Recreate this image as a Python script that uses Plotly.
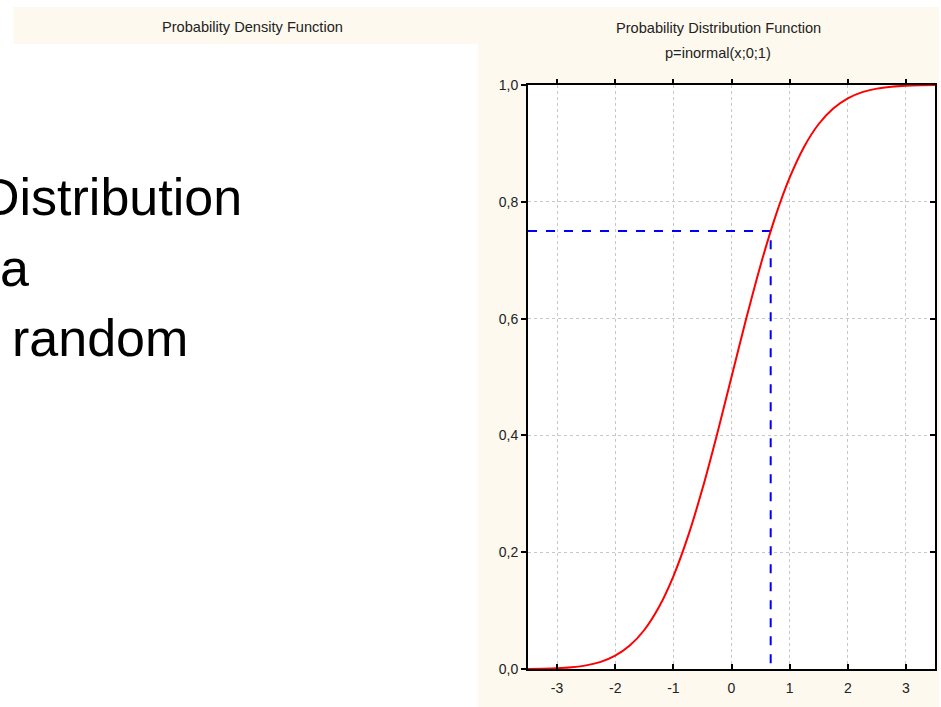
import plotly.graph_objects as go

# ---- data ----
x_vals = [-3.5, -3.25, -3.0, -2.75, -2.5, -2.25, -2.0, -1.75, -1.5, -1.25, -1.0,
          -0.75, -0.5, -0.25, 0.0, 0.25, 0.5, 0.75, 1.0, 1.25, 1.5, 1.75, 2.0,
          2.25, 2.5, 2.75, 3.0, 3.25, 3.5]
p_vals = [0.0002, 0.0006, 0.0013, 0.0030, 0.0062, 0.0122, 0.0228, 0.0401, 0.0668,
          0.1056, 0.1587, 0.2266, 0.3085, 0.4013, 0.5000, 0.5987, 0.6915, 0.7734,
          0.8413, 0.8944, 0.9332, 0.9599, 0.9772, 0.9878, 0.9938, 0.9970, 0.9987,
          0.9994, 0.9998]
quantile_x = [-3.5, 0.674, 0.674]
quantile_p = [0.75, 0.75, 0.0]
x_ticks = [-3, -2, -1, 0, 1, 2, 3]
y_ticks = [0.0, 0.2, 0.4, 0.6, 0.8, 1.0]
left_title = "Probability Density Function"
right_title = "Probability Distribution Function"
right_subtitle = "p=inormal(x;0;1)"
side_text = ["Distribution", "a", "random"]

# ---- geometry (pixels) ----
W, H = 941, 707
PL, PR, PT, PB = 528, 937, 85, 669


def px(x):
    return (x - PL) / (PR - PL)


def py(y):
    return (PB - y) / (PB - PT)


BEIGE = "#fdf9ee"
FONT = "Liberation Sans"

fig = go.Figure()
fig.add_trace(go.Scatter(x=quantile_x, y=quantile_p, mode="lines",
                         line=dict(color="#0000ff", width=2, dash="dash"),
                         showlegend=False, hoverinfo="skip"))
fig.add_trace(go.Scatter(x=x_vals, y=p_vals, mode="lines",
                         line=dict(color="#ff0000", width=2, shape="spline", smoothing=0.6),
                         showlegend=False, cliponaxis=False))
# invisible trace to activate the secondary (tick-mirror) axes
fig.add_trace(go.Scatter(x=[x_vals[0]], y=[p_vals[0]], xaxis="x2", yaxis="y2",
                         mode="markers", marker=dict(opacity=0), showlegend=False,
                         hoverinfo="skip"))

shapes = [
    dict(type="rect", xref="paper", yref="paper", x0=px(11), x1=px(W), y0=py(44), y1=py(7),
         fillcolor=BEIGE, line=dict(width=0), layer="below"),
    dict(type="rect", xref="paper", yref="paper", x0=px(478), x1=px(W), y0=py(H), y1=py(7),
         fillcolor=BEIGE, line=dict(width=0), layer="below"),
    dict(type="rect", xref="paper", yref="paper", x0=0, x1=1, y0=0, y1=1,
         fillcolor="white", line=dict(width=0), layer="below"),
]

annotations = [
    dict(text=left_title, x=px(251), y=py(27), xref="paper", yref="paper",
         showarrow=False, xanchor="center", yanchor="middle",
         font=dict(family=FONT, size=14.6, color="#222222")),
    dict(text=right_title, x=px(719), y=py(28), xref="paper", yref="paper",
         showarrow=False, xanchor="center", yanchor="middle",
         font=dict(family=FONT, size=14.6, color="#222222")),
    dict(text=right_subtitle, x=px(719), y=py(53), xref="paper", yref="paper",
         showarrow=False, xanchor="center", yanchor="middle",
         font=dict(family=FONT, size=14.6, color="#222222")),
]
side_x = [-23, -5, 7]
side_y = [197, 268, 338]
for t, sx, sy in zip(side_text, side_x, side_y):
    annotations.append(dict(text=t, x=px(sx), y=py(sy), xref="paper", yref="paper",
                            showarrow=False, xanchor="left", yanchor="middle",
                            font=dict(family=FONT, size=52, color="#000000")))

fig.update_layout(
    width=W, height=H,
    margin=dict(l=PL, r=W - PR, t=PT, b=H - PB, pad=0),
    paper_bgcolor="white", plot_bgcolor="white",
    separators=",.",
    shapes=shapes, annotations=annotations,
    font=dict(family=FONT, size=14, color="#222222"),
    xaxis=dict(range=[-3.5, 3.5], tickvals=x_ticks, ticktext=[str(v) for v in x_ticks],
               ticks="inside", ticklen=5, tickwidth=1.5, tickcolor="black",
               showline=True, linecolor="black", linewidth=2, mirror=True,
               showgrid=True, gridcolor="#c8c8c8", gridwidth=1, griddash="dot",
               zeroline=False, ticklabelstandoff=5,
               tickfont=dict(family=FONT, size=14, color="#222222")),
    yaxis=dict(range=[0, 1], tickvals=y_ticks, tickformat=".1f",
               ticks="outside", ticklen=5, tickwidth=1.5, tickcolor="black",
               showline=True, linecolor="black", linewidth=2, mirror=True,
               showgrid=True, gridcolor="#c8c8c8", gridwidth=1, griddash="dot",
               zeroline=False,
               tickfont=dict(family=FONT, size=14, color="#222222")),
    xaxis2=dict(range=[-3.5, 3.5], overlaying="x", side="top", tickvals=x_ticks,
                ticks="outside", ticklen=5, tickwidth=1.5, tickcolor="black",
                showticklabels=False, showgrid=False, showline=False, zeroline=False),
    yaxis2=dict(range=[0, 1], overlaying="y", side="right", tickvals=y_ticks,
                ticks="inside", ticklen=5, tickwidth=1.5, tickcolor="black",
                showticklabels=False, showgrid=False, showline=False, zeroline=False),
)

fig.write_html("out.html")
